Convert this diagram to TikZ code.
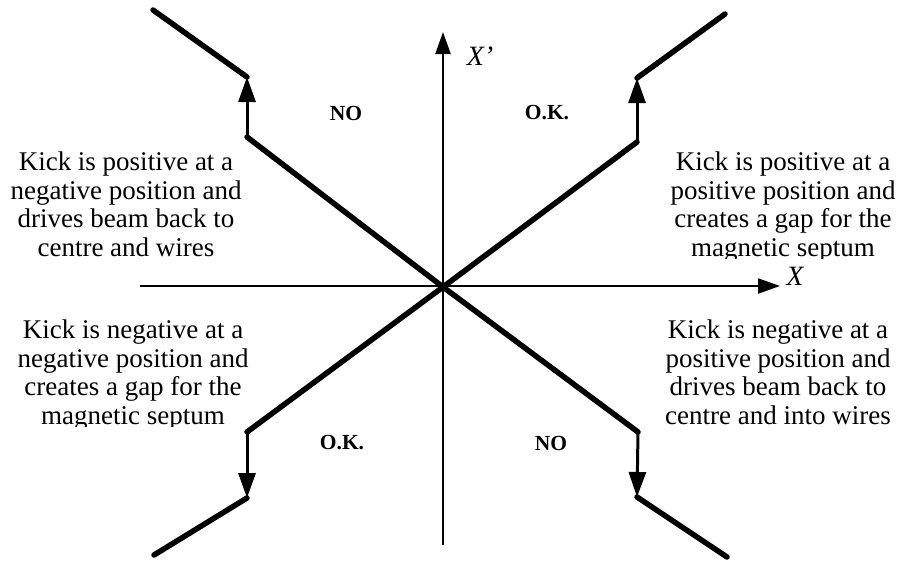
\documentclass[tikz,border=0pt]{standalone}
\usepackage{fontspec}
\setmainfont{Liberation Serif}
\usetikzlibrary{arrows.meta}
\begin{document}
\begin{tikzpicture}[x=1pt,y=-1pt,
  beam/.style={line width=5.5pt, line cap=round, line join=round},
  kick/.style={line width=3pt, -{Triangle[length=25pt,width=17pt]}},
  axis/.style={line width=2.3pt, -{Triangle[length=22pt,width=15pt]}},
  desc/.style={align=center, font=\fontsize{27}{28.5}\selectfont, inner sep=0pt, anchor=north},
  verdict/.style={font=\fontsize{21.5}{24}\selectfont\bfseries, inner sep=0pt},
  axlabel/.style={font=\fontsize{28}{30}\selectfont\itshape, inner sep=0pt}]
\useasboundingbox[fill=white] (0,0) rectangle (901,560);
% key points
\coordinate (C) at (443,287);
\coordinate (ULend) at (153,10);
\coordinate (B1) at (247,77);
\coordinate (K1) at (247,137);
\coordinate (URend) at (725,14);
\coordinate (B2) at (637,78);
\coordinate (K2) at (637,142);
\coordinate (K3) at (247,432);
\coordinate (T3) at (247,498);
\coordinate (LLend) at (154,555);
\coordinate (K4) at (638,432);
\coordinate (T4) at (637,497);
\coordinate (LRend) at (727,557);
% axes
\coordinate (XL) at (140,286);
\coordinate (XR) at (780,286);
\coordinate (YB) at (443,545);
\coordinate (YT) at (443,32);
\draw[axis] (XL) -- (XR);
\draw[axis] (YB) -- (YT);
\node[axlabel] (xlab) at (795,276) {X};
\node[axlabel] (xplab) at (480,56) {X'};
% beam lines
\draw[beam] (ULend) -- (B1);
\draw[beam] (K1) -- (C) -- (K4);
\draw[beam] (T4) -- (LRend);
\draw[beam] (URend) -- (B2);
\draw[beam] (K2) -- (C) -- (K3);
\draw[beam] (T3) -- (LLend);
% kicks
\draw[kick] (K1) -- (B1);
\draw[kick] (K2) -- (B2);
\draw[kick] (K3) -- (T3);
\draw[kick] (K4) -- (T4);
% verdicts
\node[verdict] (no1) at (346,113) {NO};
\node[verdict] (ok1) at (547,113) {O.K.};
\node[verdict] (ok2) at (342,443) {O.K.};
\node[verdict] (no2) at (551,443) {NO};
% descriptions
\node[desc] (dUL) at (126,152) {Kick is positive at a\\negative position and\\drives beam back to\\centre and wires};
\begin{scope}
  \clip (600,100) rectangle (901,258);
  \node[desc] (dUR) at (783,152) {Kick is positive at a\\positive position and\\creates a gap for the\\magnetic septum};
\end{scope}
\begin{scope}
  \clip (0,300) rectangle (280,426);
  \node[desc] (dLL) at (133,320) {Kick is negative at a\\negative position and\\creates a gap for the\\magnetic septum};
\end{scope}
\node[desc] (dLR) at (778,320) {Kick is negative at a\\positive position and\\drives beam back to\\centre and into wires};
\end{tikzpicture}
\end{document}
